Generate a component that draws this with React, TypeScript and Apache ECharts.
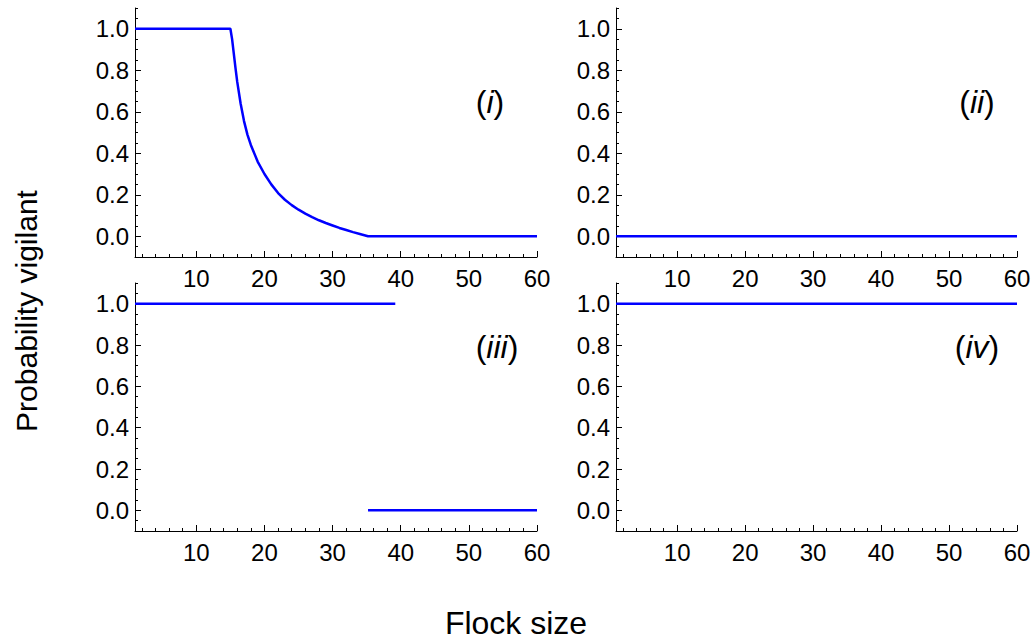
import React, { useEffect, useRef } from "react";
import * as echarts from "echarts";

// Panel (i): probability vigilant vs flock size
const curveX = [1, 15, 15.25, 15.5, 15.75, 16, 16.5, 17, 17.5, 18, 19, 20, 21, 22, 23, 24, 25, 26, 27, 28, 29, 30, 31, 32, 33, 34, 35.2, 60];
const curveP = [1, 1, 0.95, 0.88, 0.81, 0.745, 0.64, 0.555, 0.49, 0.44, 0.36, 0.3, 0.25, 0.208, 0.176, 0.15, 0.128, 0.109, 0.092, 0.077, 0.064, 0.052, 0.04, 0.03, 0.02, 0.011, 0, 0];
// Panel (ii)
const fullX = [1, 60];
const zeroP = [0, 0];
// Panel (iii)
const highX = [1, 39.2];
const highP = [1, 1];
const lowX = [35.2, 60];
const lowP = [0, 0];
// Panel (iv)
const oneP = [1, 1];

const xMajor = [10, 20, 30, 40, 50, 60];
const xMinor = [2, 4, 6, 8, 12, 14, 16, 18, 22, 24, 26, 28, 32, 34, 36, 38, 42, 44, 46, 48, 52, 54, 56, 58];
const yMajor = [0, 0.2, 0.4, 0.6, 0.8, 1.0];
const yMinor = [-0.05, 0.05, 0.1, 0.15, 0.25, 0.3, 0.35, 0.45, 0.5, 0.55, 0.65, 0.7, 0.75, 0.85, 0.9, 0.95, 1.05, 1.1];
const panelLabels = ["i", "ii", "iii", "iv"];
const xTitle = "Flock size";
const yTitle = "Probability vigilant";

const FONT = "Liberation Sans, Arial, sans-serif";

const grids = [
  { left: 135, top: 8, width: 402, height: 249 },
  { left: 616, top: 8, width: 401, height: 249 },
  { left: 135, top: 283, width: 402, height: 248 },
  { left: 616, top: 283, width: 401, height: 248 },
];
const labelPos = [
  [490, 102],
  [977, 102],
  [497, 347],
  [977, 347],
];

const zip = (xs: number[], ys: number[]) => xs.map((x, i) => [x, ys[i]]);

export default function App() {
  const ref = useRef<HTMLDivElement>(null);
  useEffect(() => {
    if (!ref.current) return;
    const chart = echarts.init(ref.current, undefined, { renderer: "svg" });
    const xAxis: any[] = [];
    const yAxis: any[] = [];
    grids.forEach((_, g) => {
      xAxis.push({
        type: "value",
        gridIndex: g,
        position: "bottom",
        min: 1,
        max: 60,
        axisLine: { show: true, onZero: false, lineStyle: { color: "#000", width: 1 } },
        axisTick: { show: true, inside: true, length: 6, customValues: xMajor, lineStyle: { color: "#000" } },
        axisLabel: { show: true, customValues: xMajor, color: "#000", fontSize: 24, fontFamily: FONT, margin: 9 },
        splitLine: { show: false },
      });
      xAxis.push({
        type: "value",
        gridIndex: g,
        position: "bottom",
        offset: 0,
        min: 1,
        max: 60,
        axisLine: { show: false, onZero: false },
        axisTick: { show: true, inside: true, length: 3, customValues: xMinor, lineStyle: { color: "#000" } },
        axisLabel: { show: false },
        splitLine: { show: false },
      });
      yAxis.push({
        type: "value",
        gridIndex: g,
        position: "left",
        min: -0.1,
        max: 1.1,
        axisLine: { show: true, onZero: false, lineStyle: { color: "#000", width: 1 } },
        axisTick: { show: true, inside: true, length: 6, customValues: yMajor, lineStyle: { color: "#000" } },
        axisLabel: {
          show: true,
          customValues: yMajor,
          color: "#000",
          fontSize: 24,
          fontFamily: FONT,
          margin: 6,
          formatter: (v: number) => v.toFixed(1),
        },
        splitLine: { show: false },
      });
      yAxis.push({
        type: "value",
        gridIndex: g,
        position: "left",
        offset: 0,
        min: -0.1,
        max: 1.1,
        axisLine: { show: false, onZero: false },
        axisTick: { show: true, inside: true, length: 3, customValues: yMinor, lineStyle: { color: "#000" } },
        axisLabel: { show: false },
        splitLine: { show: false },
      });
    });

    const lineStyle = { color: "#0000ff", width: 2.5 };
    const mk = (g: number, data: number[][]) => ({
      type: "line",
      xAxisIndex: 2 * g,
      yAxisIndex: 2 * g,
      data,
      showSymbol: false,
      symbol: "none",
      lineStyle,
      clip: false,
    });

    const graphic: any[] = panelLabels.map((t, i) => ({
      type: "text",
      x: labelPos[i][0],
      y: labelPos[i][1],
      style: {
        text: `{n|(}{it|${t}}{n|)}`,
        align: "center",
        verticalAlign: "middle",
        rich: {
          n: { fontSize: 32, fontFamily: FONT, fill: "#000" },
          it: { fontSize: 32, fontFamily: FONT, fontStyle: "italic", fill: "#000" },
        },
      },
    }));
    graphic.push({
      type: "text",
      x: 516,
      y: 623,
      style: { text: xTitle, fontSize: 32, fontFamily: FONT, fill: "#000", align: "center", verticalAlign: "middle" },
    });
    graphic.push({
      type: "text",
      x: 26,
      y: 311,
      rotation: Math.PI / 2,
      style: { text: yTitle, fontSize: 30, fontFamily: FONT, fill: "#000", align: "center", verticalAlign: "middle" },
    });

    chart.setOption({
      animation: false,
      backgroundColor: "#fff",
      grid: grids.map((g) => ({ ...g, containLabel: false })),
      xAxis,
      yAxis,
      series: [
        mk(0, zip(curveX, curveP)),
        mk(1, zip(fullX, zeroP)),
        mk(2, zip(highX, highP)),
        mk(2, zip(lowX, lowP)),
        mk(3, zip(fullX, oneP)),
      ],
      graphic,
    });
    return () => chart.dispose();
  }, []);
  return <div ref={ref} style={{ position: "absolute", left: 0, top: 0, width: 1036, height: 641 }} />;
}
